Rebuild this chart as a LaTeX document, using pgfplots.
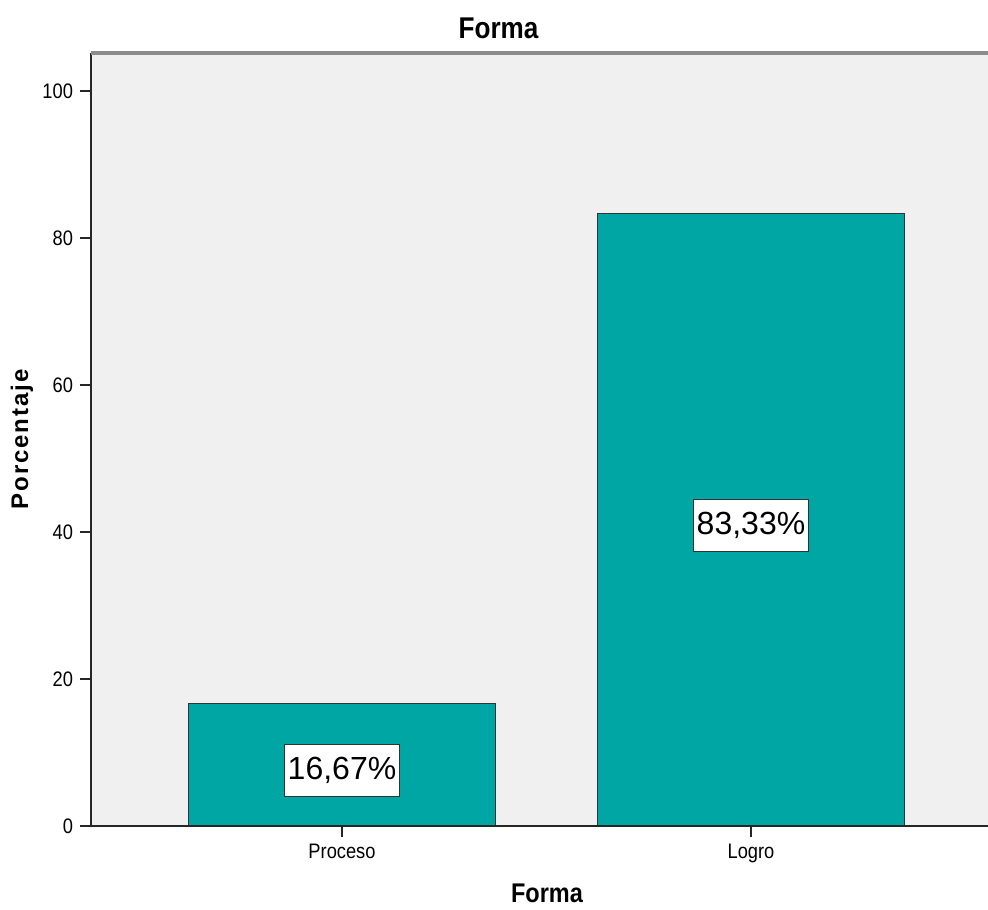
\documentclass[border=0pt]{standalone}
\usepackage{fontspec}
\setmainfont{Liberation Sans}[FakeStretch=0.87]
\newfontfamily\plainfont{Liberation Sans}
\newfontfamily\spacedfont{Liberation Sans}[LetterSpace=8]
\usepackage{pgfplots}
\pgfplotsset{compat=1.18}
\definecolor{barteal}{RGB}{0,166,164}
\definecolor{plotbg}{RGB}{240,240,240}
\begin{document}
\begin{tikzpicture}
\useasboundingbox (-45.5pt,-41.5pt) rectangle (448.5pt,413pt);
\begin{axis}[
  name=ax,
  at={(0,0)}, anchor=south west,
  scale only axis, width=448.5pt, height=386.5pt,
  xmin=-0.6137, xmax=1.5795, ymin=0, ymax=105.17,
  axis background/.style={fill=plotbg},
  axis x line*=bottom, axis y line*=left,
  axis line style={black!85, line width=0.9pt},
  axis on top,
  xtick={0,1}, xticklabels={Proceso,Logro},
  ytick={0,20,40,60,80,100},
  tick align=outside, major tick length=5.5pt,
  tick style={black!85, line width=0.9pt},
  ticklabel style={font=\fontsize{10.5}{12}\selectfont},
  /pgf/number format/assume math mode=true,
  title={Forma},
  title style={font=\fontsize{15}{17}\selectfont\bfseries, at={(axis description cs:0,1)}, anchor=center, xshift=203.75pt, yshift=6.5pt},
  xlabel={Forma},
  xlabel style={font=\fontsize{13.5}{15}\selectfont\bfseries, at={(axis description cs:0,0)}, anchor=center, xshift=228pt, yshift=-33.5pt},
  ylabel={Porcentaje},
  ylabel style={font=\spacedfont\fontsize{12}{14}\selectfont\bfseries, at={(axis description cs:-0.0769,0.5)}, anchor=center},
  after end axis/.code={\draw[black!45, line width=1.6pt] (rel axis cs:0,1) -- (rel axis cs:1,1);},
]
\addplot[ybar, bar width=0.75, fill=barteal, draw=black!80, line width=0.6pt,
  visualization depends on={rawy \as \rawy},
  nodes near coords={\pgfmathprintnumber[fixed, fixed zerofill, precision=2, use comma]{\pgfplotspointmeta}\%},
  every node near coord/.append style={font=\plainfont\fontsize{16}{18}\selectfont, fill=white, draw=black!80, line width=0.6pt, inner xsep=1.75pt, minimum height=26pt, anchor=center, shift={(axis direction cs:0,-\rawy/2)}, yshift=-2.75pt, text=black},
] coordinates {(0,16.67) (1,83.33)};
\end{axis}
\end{tikzpicture}
\end{document}
